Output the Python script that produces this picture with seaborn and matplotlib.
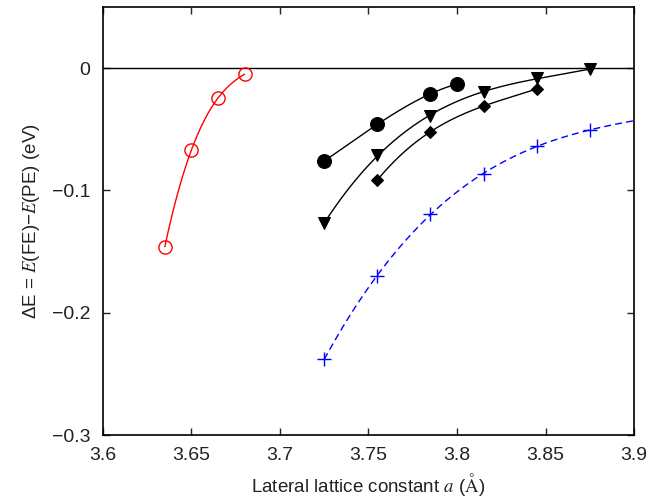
import numpy as np
import pandas as pd
import matplotlib
matplotlib.use("Agg")
import matplotlib.pyplot as plt
import seaborn as sns

# Energy difference between FE and PE phases vs lateral lattice constant
red_a = [3.635, 3.65, 3.665, 3.68]
red_dE = [-0.146, -0.067, -0.0245, -0.005]

circ_a = [3.725, 3.755, 3.785, 3.80]
circ_dE = [-0.076, -0.046, -0.021, -0.013]

tri_a = [3.725, 3.755, 3.785, 3.815, 3.845, 3.875]
tri_dE = [-0.127, -0.071, -0.039, -0.0195, -0.008, -0.001]

dia_a = [3.755, 3.785, 3.815, 3.845]
dia_dE = [-0.0915, -0.052, -0.031, -0.017]

blue_a = [3.725, 3.755, 3.785, 3.815, 3.845, 3.875]
blue_dE = [-0.238, -0.170, -0.119, -0.0865, -0.064, -0.0505]

xticks = [3.6, 3.65, 3.7, 3.75, 3.8, 3.85, 3.9]
xtick_labels = ["3.6", "3.65", "3.7", "3.75", "3.8", "3.85", "3.9"]
yticks = [0.0, -0.1, -0.2, -0.3]
ytick_labels = ["0", "\u22120.1", "\u22120.2", "\u22120.3"]

sns.set_style("ticks")
plt.rcParams["font.family"] = ["Liberation Sans", "DejaVu Sans"]
plt.rcParams["mathtext.fontset"] = "stix"
plt.rcParams["axes.unicode_minus"] = True

fig = plt.figure(figsize=(6.51, 5.0), dpi=100)
ax = fig.add_axes([0.158, 0.13, 0.816, 0.856])

ax.axhline(0, color="black", lw=1.0, zorder=1)


def smooth(a, e, deg, x_end=None):
    """Smooth fitted curve through a series, optionally extended to x_end."""
    coef = np.polyfit(a, e, deg)
    xs = np.linspace(a[0], a[-1] if x_end is None else x_end, 200)
    return pd.DataFrame({"a": xs, "dE": np.polyval(coef, xs)})


def curve(df, **kw):
    sns.lineplot(data=df, x="a", y="dE", ax=ax, sort=False, estimator=None, **kw)


def points(a, e, **kw):
    df = pd.DataFrame({"a": a, "dE": e})
    sns.lineplot(data=df, x="a", y="dE", ax=ax, sort=False, estimator=None,
                 linestyle="none", **kw)


# Curves
curve(smooth(red_a, red_dE, 3), color="red", lw=1.0)
curve(smooth(circ_a, circ_dE, 3), color="black", lw=1.0)
curve(smooth(tri_a, tri_dE, 3), color="black", lw=1.0)
curve(smooth(dia_a, dia_dE, 3), color="black", lw=1.0)
curve(smooth(blue_a, blue_dE, 3, x_end=3.9), color="blue", lw=1.0,
      dashes=(5, 3))

# Markers
points(red_a, red_dE, marker="o", markersize=9.5, markerfacecolor="none",
       markeredgecolor="red", markeredgewidth=1.0, color="red")
points(circ_a, circ_dE, marker="o", markersize=10, color="black",
       markeredgecolor="black")
points(tri_a, tri_dE, marker="v", markersize=8.5, color="black",
       markeredgecolor="black")
points(dia_a, dia_dE, marker="D", markersize=6.5, color="black",
       markeredgecolor="black")
points(blue_a, blue_dE, marker="+", markersize=10, markeredgewidth=1.0,
       color="blue", markeredgecolor="blue")

ax.set_xlim(3.6, 3.9)
ax.set_ylim(-0.3, 0.05)
ax.set_xticks(xticks, xtick_labels)
ax.set_yticks(yticks, ytick_labels)

ax.tick_params(direction="in", top=True, right=True, length=5, width=1.0,
               labelsize=14, colors="#222222", pad=9)
for s in ax.spines.values():
    s.set_visible(True)
    s.set_color("black")
    s.set_linewidth(1.2)

ax.set_xlabel(r"Lateral lattice constant $a$ ($\mathrm{\AA}$)", fontsize=13.5,
              color="#222222", labelpad=5)
ax.set_ylabel("\u0394E = $E$(FE)\u2212$E$(PE) (eV)", fontsize=13.5,
              color="#222222", labelpad=7)

fig.savefig("out.png", dpi=100)
